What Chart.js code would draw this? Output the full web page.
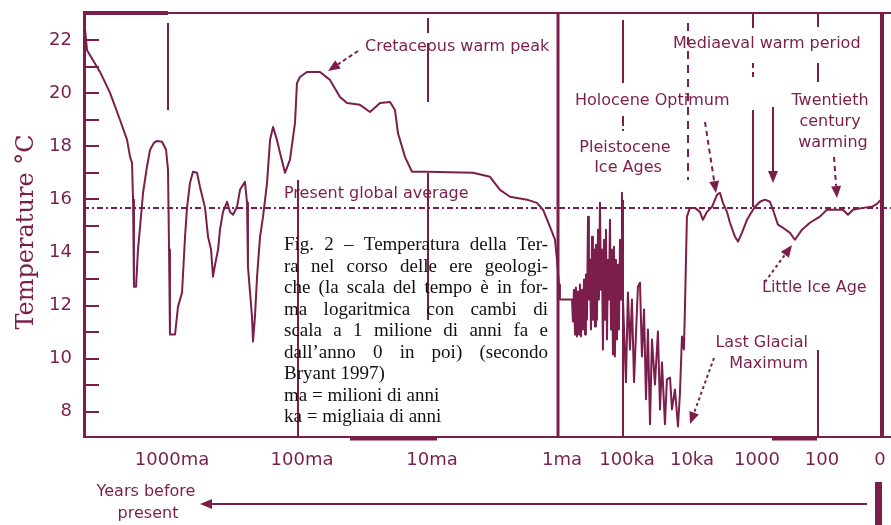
<!DOCTYPE html>
<html>
<head>
<meta charset="utf-8">
<script src="https://cdn.jsdelivr.net/npm/chart.js@4"></script>
<style>
  body { margin: 0; background: #fff; }
  canvas { display: block; }
</style>
</head>
<body>
<canvas id="tempChart" width="891" height="525"></canvas>
<script>
// x is the position on the broken log time axis: 0 = 1000ma, 1 = 100ma, 2 = 10ma, 3 = 1ma,
// then half a unit per decade: 3.5 = 100ka, 4 = 10ka, 4.5 = 1000 yr, 5 = 100 yr, 5.49 = 0
var tickPos = [0, 1, 2, 3, 3.5, 4, 4.5, 5, 5.49];
var tickLabels = ['1000ma', '100ma', '10ma', '1ma', '100ka', '10ka', '1000', '100', '0'];
var tempTicks = [8, 10, 12, 14, 16, 18, 20, 22];
var presentAverage = 15.68;

var deepTimePos = [-0.638, -0.623, -0.523, -0.446, -0.369, -0.315, -0.292, -0.277, -0.269, -0.262, -0.246,
  -0.231, -0.215, -0.192, -0.162, -0.138, -0.108, -0.085, -0.046, -0.015, 0, 0.008, 0.015, 0.054, 0.077,
  0.108, 0.131, 0.146, 0.169, 0.192, 0.223, 0.246, 0.285, 0.308, 0.331, 0.346, 0.362, 0.385, 0.400, 0.423,
  0.454, 0.477, 0.500, 0.531, 0.554, 0.592, 0.608, 0.615, 0.646, 0.654, 0.669, 0.685, 0.708, 0.731, 0.762,
  0.785, 0.808, 0.838, 0.862, 0.900, 0.938, 0.977, 0.992, 1.015, 1.069, 1.169, 1.246, 1.323, 1.377, 1.477,
  1.554, 1.631, 1.708, 1.746, 1.769, 1.823, 1.877, 1.992, 2.346, 2.477, 2.554, 2.631, 2.762, 2.838, 2.885,
  2.938, 2.977, 2.992, 3.008, 3.015];
var deepTimeTemp = [22.38, 21.62, 20.80, 20.01, 18.99, 18.24, 17.60, 17.38, 15.99, 12.71, 12.71,
  14.11, 14.97, 16.25, 17.23, 17.87, 18.13, 18.20, 18.17, 17.87, 17.11, 14.11, 10.91, 10.91, 11.96,
  12.49, 14.59, 15.68, 16.62, 17.04, 17.00, 16.47, 15.68, 14.59, 14.11, 13.09, 13.54, 14.11, 14.86, 15.53,
  15.91, 15.53, 15.42, 15.72, 16.36, 16.66, 15.87, 13.47, 11.59, 10.65, 11.59, 13.09, 14.59, 15.35, 16.62,
  18.24, 18.73, 18.24, 17.75, 17.00, 17.49, 18.88, 20.38, 20.61, 20.80, 20.80, 20.50, 19.86, 19.63, 19.56,
  19.29, 19.63, 19.67, 19.37, 18.50, 17.60, 17.04, 17.04, 17.00, 16.85, 16.36, 16.10, 15.99, 15.87, 15.61,
  14.97, 14.48, 13.73, 12.79, 12.23];

var iceAgePos = [3.062, 3.108, 3.115, 3.123, 3.131, 3.138, 3.146, 3.154, 3.162, 3.169, 3.177, 3.185, 3.192,
  3.200, 3.208, 3.215, 3.223, 3.231, 3.238, 3.246, 3.254, 3.262, 3.269, 3.277, 3.285, 3.292, 3.300, 3.308,
  3.315, 3.323, 3.331, 3.338, 3.346, 3.354, 3.362, 3.369, 3.377, 3.385, 3.392, 3.400, 3.408, 3.415, 3.423,
  3.431, 3.438, 3.446, 3.454, 3.462, 3.469, 3.477, 3.485, 3.492, 3.500,
  3.523, 3.538, 3.554, 3.569, 3.585, 3.615, 3.631, 3.646, 3.662, 3.677, 3.692, 3.708, 3.723, 3.746,
  3.769, 3.785, 3.800, 3.823, 3.838, 3.862, 3.877, 3.900, 3.923, 3.938, 3.954, 3.969, 3.977, 3.992];
var iceAgeTemp = [12.23, 12.23, 11.40, 12.60, 10.91, 12.68, 10.84, 12.53, 10.91, 12.79, 10.84, 12.60, 11.10,
  12.98, 10.91, 13.17, 11.47, 15.35, 12.23, 13.73, 11.10, 14.59, 11.47, 14.11, 11.21, 14.29, 11.47, 14.86,
  12.23, 15.87, 12.60, 14.11, 10.35, 14.48, 11.47, 14.86, 10.72, 13.73, 12.23, 15.23, 11.10, 14.11, 10.16,
  14.22, 10.08, 13.73, 10.72, 13.54, 11.10, 14.48, 12.23, 16.25, 12.23,
  9.11, 12.49, 10.35, 12.23, 9.11, 12.71, 12.86, 10.08, 11.85, 8.47, 11.10, 7.53, 10.72, 9.03,
  11.02, 8.09, 9.86, 7.53, 9.22, 9.29, 8.09, 8.84, 7.45, 8.65, 10.84, 10.35, 11.96, 15.35];

var holocenePos = [4.015, 4.054, 4.092, 4.115, 4.146, 4.185, 4.223, 4.246, 4.269, 4.300, 4.323, 4.362, 4.385,
  4.415, 4.454, 4.477, 4.515, 4.554, 4.592, 4.631, 4.654, 4.692, 4.731, 4.785, 4.823, 4.877, 4.938, 5.015,
  5.069, 5.192, 5.231, 5.269, 5.346, 5.415, 5.454, 5.485];
var holoceneTemp = [15.68, 15.68, 15.53, 15.23, 15.53, 15.72, 16.17, 16.25, 15.87, 15.53, 15.12, 14.59, 14.41,
  14.74, 15.23, 15.42, 15.72, 15.91, 15.99, 15.91, 15.61, 15.05, 14.93, 14.74, 14.48, 14.86, 15.12, 15.35,
  15.61, 15.61, 15.42, 15.61, 15.68, 15.72, 15.83, 15.99];

var MAROON = '#7b1e4b';

function toPoints(xs, ys) {
  return xs.map(function (x, i) { return { x: x, y: ys[i] }; });
}
var curve = toPoints(deepTimePos, deepTimeTemp)
  .concat(toPoints(iceAgePos, iceAgeTemp))
  .concat(toPoints(holocenePos, holoceneTemp));

// vertical marker lines at the time ticks, y ranges in pixels
var guides = [
  { at: 0, segs: [[23, 110]] },
  { at: 1, segs: [[180, 437]] },
  { at: 2, segs: [[18, 33], [43, 102], [173, 320]] },
  { at: 3, segs: [[13, 437]], w: 3 },
  { at: 3.5, segs: [[20, 83], [116, 126], [129, 131], [200, 437]] },
  { at: 4, segs: [[23, 180]], dash: [8, 6] },
  { at: 4.5, segs: [[13, 28], [110, 207]] },
  { at: 4.5, segs: [[63, 80]], dash: [5, 4] },
  { at: 5, segs: [[13, 27], [63, 82], [350, 437]] },
  { at: 5.49, segs: [[13, 437]], w: 4 }
];

var caption = [
  'Fig. 2 – Temperatura della Ter-',
  'ra nel corso delle ere geologi-',
  'che (la scala del tempo è in for-',
  'ma logaritmica con cambi di',
  'scala a 1 milione di anni fa e',
  'dall’anno 0 in poi) (secondo',
  'Bryant 1997)',
  'ma = milioni di anni',
  'ka = migliaia di anni'
];

function arrow(ctx, x1, y1, x2, y2, dash) {
  var ang = Math.atan2(y2 - y1, x2 - x1);
  var hl = 12, hw = 5;
  var bx = x2 - Math.cos(ang) * hl, by = y2 - Math.sin(ang) * hl;
  ctx.save();
  ctx.strokeStyle = MAROON;
  ctx.fillStyle = MAROON;
  ctx.lineWidth = 2;
  ctx.setLineDash(dash || []);
  ctx.beginPath();
  ctx.moveTo(x1, y1);
  ctx.lineTo(bx, by);
  ctx.stroke();
  ctx.setLineDash([]);
  ctx.beginPath();
  ctx.moveTo(x2, y2);
  ctx.lineTo(bx - Math.sin(ang) * hw, by + Math.cos(ang) * hw);
  ctx.lineTo(bx + Math.sin(ang) * hw, by - Math.cos(ang) * hw);
  ctx.closePath();
  ctx.fill();
  ctx.restore();
}

function justify(ctx, text, x, y, width) {
  var words = text.split(' ');
  var total = words.reduce(function (s, w) { return s + ctx.measureText(w).width; }, 0);
  var gap = (width - total) / (words.length - 1);
  var cx = x;
  words.forEach(function (w) {
    ctx.fillText(w, cx, y);
    cx += ctx.measureText(w).width + gap;
  });
}

var decor = {
  id: 'decor',
  beforeDatasetsDraw: function (chart) {
    var ctx = chart.ctx, a = chart.chartArea;
    var xs = chart.scales.x, ys = chart.scales.y;
    ctx.save();
    ctx.strokeStyle = MAROON;
    ctx.lineCap = 'butt';

    // frame
    ctx.lineWidth = 2;
    ctx.beginPath();
    ctx.moveTo(a.left, 13); ctx.lineTo(a.right, 13);
    ctx.moveTo(a.left, a.bottom); ctx.lineTo(a.right, a.bottom);
    ctx.stroke();
    ctx.lineWidth = 4;
    ctx.beginPath();
    ctx.moveTo(a.left, 13); ctx.lineTo(xs.getPixelForValue(0), 13);
    ctx.stroke();
    ctx.lineWidth = 3;
    ctx.beginPath();
    ctx.moveTo(a.left + 1.5, a.top); ctx.lineTo(a.left + 1.5, a.bottom);
    ctx.moveTo(350, a.bottom + 2); ctx.lineTo(437, a.bottom + 2);
    ctx.moveTo(772, a.bottom + 2); ctx.lineTo(817, a.bottom + 2);
    ctx.stroke();

    // temperature ticks, inward
    ctx.lineWidth = 2;
    for (var t = 8; t <= 22; t++) {
      var py = Math.round(ys.getPixelForValue(t));
      ctx.beginPath();
      ctx.moveTo(a.left, py); ctx.lineTo(a.left + 16, py);
      ctx.stroke();
    }

    // guides
    guides.forEach(function (g) {
      var px = Math.round(xs.getPixelForValue(g.at));
      ctx.lineWidth = g.w || 2;
      ctx.setLineDash(g.dash || []);
      g.segs.forEach(function (s) {
        ctx.beginPath();
        ctx.moveTo(px, s[0]); ctx.lineTo(px, s[1]);
        ctx.stroke();
      });
    });
    ctx.setLineDash([]);

    // present global average
    var avgY = ys.getPixelForValue(presentAverage);
    ctx.lineWidth = 2;
    ctx.setLineDash([6, 3, 2, 3]);
    ctx.beginPath();
    ctx.moveTo(a.left, avgY); ctx.lineTo(a.right, avgY);
    ctx.stroke();
    ctx.setLineDash([]);
    ctx.restore();
  },
  afterDatasetsDraw: function (chart) {
    var ctx = chart.ctx, a = chart.chartArea;
    var xs = chart.scales.x, ys = chart.scales.y;
    ctx.save();
    ctx.fillStyle = MAROON;

    // tick labels
    ctx.font = '18px "DejaVu Sans"';
    ctx.textAlign = 'right';
    ctx.textBaseline = 'middle';
    tempTicks.forEach(function (t) {
      ctx.fillText(String(t), 72, ys.getPixelForValue(t));
    });
    ctx.textAlign = 'center';
    ctx.textBaseline = 'alphabetic';
    tickPos.forEach(function (p, i) {
      ctx.fillText(tickLabels[i], Math.min(xs.getPixelForValue(p) + 4, 880), 465);
    });

    // axis title
    ctx.save();
    ctx.translate(27, 232);
    ctx.rotate(-Math.PI / 2);
    ctx.font = '24px "DejaVu Serif"';
    ctx.textBaseline = 'middle';
    ctx.fillText('Temperature °C', 0, 0);
    ctx.restore();

    // annotations
    ctx.font = '16px "DejaVu Sans"';
    ctx.textBaseline = 'middle';
    ctx.textAlign = 'left';
    ctx.fillText('Cretaceous warm peak', 365, 47);
    ctx.fillText('Present global average', 284, 194);
    ctx.fillText('Mediaeval warm period', 673, 44);
    ctx.fillText('Holocene Optimum', 575, 101);
    ctx.fillText('Little Ice Age', 762, 288);
    ctx.textAlign = 'center';
    ctx.fillText('Pleistocene', 625, 148);
    ctx.fillText('Ice Ages', 628, 168);
    ctx.fillText('Twentieth', 830, 101);
    ctx.fillText('century', 830, 122);
    ctx.fillText('warming', 833, 143);
    ctx.fillText('Years before', 146, 492);
    ctx.fillText('present', 148, 514);
    ctx.textAlign = 'right';
    ctx.fillText('Last Glacial', 808, 343);
    ctx.fillText('Maximum', 808, 364);

    arrow(ctx, 358, 51, 328, 71, [4, 3]);
    arrow(ctx, 705, 122, 716, 193, [5, 4]);
    arrow(ctx, 773, 107, 773, 183);
    arrow(ctx, 834, 157, 837, 198, [5, 4]);
    arrow(ctx, 765, 282, 792, 245, [3, 3]);
    arrow(ctx, 714, 358, 690, 424, [3, 3]);

    // years before present arrow
    arrow(ctx, 867, 504, 200, 504);
    ctx.fillRect(875, 482, 7, 43);

    // caption
    ctx.fillStyle = '#111';
    ctx.font = '19px "Liberation Serif"';
    ctx.textAlign = 'left';
    ctx.textBaseline = 'alphabetic';
    caption.forEach(function (line, i) {
      var y = 250 + i * 21.5;
      if (i < 6) justify(ctx, line, 284, y, 264);
      else ctx.fillText(line, 284, y);
    });
    ctx.restore();
  }
};

var ctx = document.getElementById('tempChart').getContext('2d');
var tempChart = new Chart(ctx, {
  type: 'line',
  data: {
    datasets: [{
      data: curve,
      borderColor: MAROON,
      borderWidth: 2,
      borderJoinStyle: 'round',
      pointRadius: 0,
      tension: 0,
      fill: false
    }]
  },
  options: {
    responsive: false,
    animation: false,
    devicePixelRatio: 1,
    layout: { padding: { left: 83, top: 13, right: 0, bottom: 88 } },
    plugins: {
      legend: { display: false },
      tooltip: { enabled: false }
    },
    scales: {
      x: { type: 'linear', min: -0.654, max: 5.562, display: false },
      y: { min: 7.05, max: 23.02, display: false }
    }
  },
  plugins: [decor]
});
</script>
</body>
</html>
